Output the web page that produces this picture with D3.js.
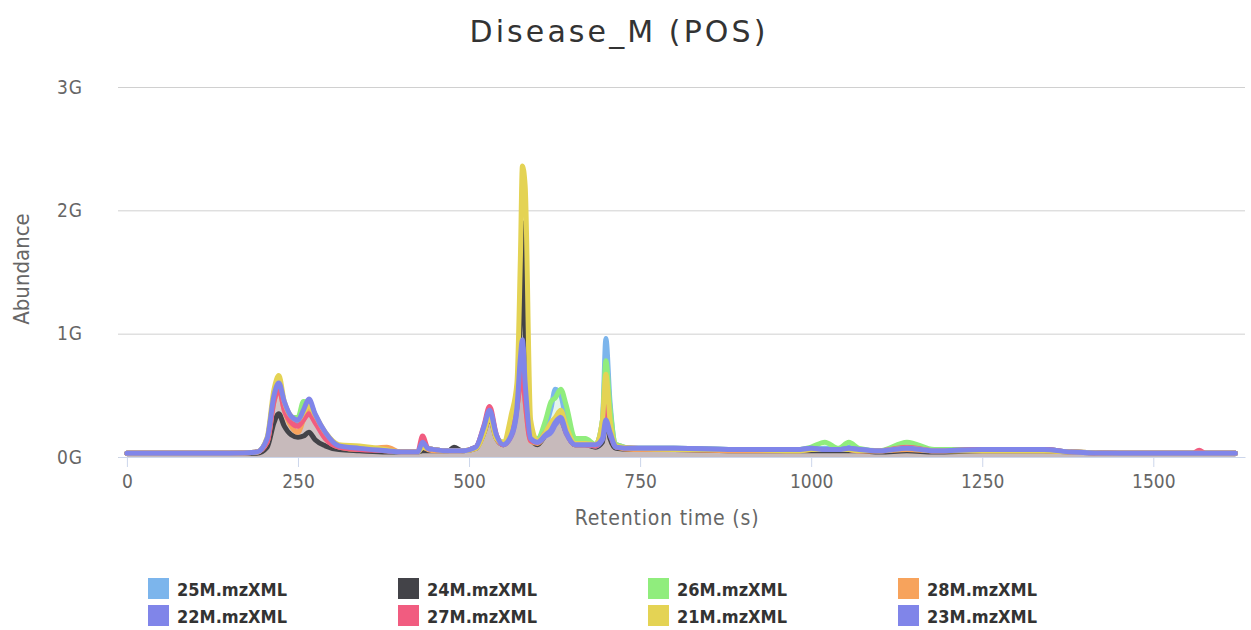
<!DOCTYPE html>
<html>
<head>
<meta charset="utf-8">
<script src="https://cdn.jsdelivr.net/npm/d3@7"></script>
<style>
  body { margin: 0; background: #fff; }
  #chart { width: 1251px; height: 630px; }
  .tick-label { font-family: "DejaVu Sans Condensed", "Liberation Sans Narrow", sans-serif; font-stretch: condensed; fill: #666; }
</style>
</head>
<body>
<div id="chart"></div>
<script>
// Retention times (s) shared by every run
const times = [0, 50, 100, 150, 190, 205, 215, 222, 230, 240,
  250, 258, 266, 275, 290, 310, 340, 380, 400, 425,
  432, 440, 450, 470, 478, 490, 510, 522, 530, 540,
  550, 562, 570, 575, 578, 582, 590, 600, 612, 620,
  626, 634, 642, 655, 670, 685, 695, 700, 706, 715,
  740, 800, 900, 980, 1000, 1020, 1040, 1055, 1070, 1100,
  1140, 1180, 1250, 1310, 1340, 1380, 1450, 1558, 1567, 1576, 1620];

// Abundance values in G, one array per run
const s25M = [0.03, 0.03, 0.03, 0.03, 0.04, 0.14, 0.48, 0.58, 0.42, 0.3,
  0.28, 0.35, 0.42, 0.32, 0.18, 0.09, 0.07, 0.05, 0.04, 0.04,
  0.08, 0.07, 0.06, 0.05, 0.05, 0.05, 0.08, 0.22, 0.35, 0.16,
  0.1, 0.2, 0.45, 0.75, 0.85, 0.55, 0.15, 0.13, 0.25, 0.4,
  0.55, 0.5, 0.3, 0.12, 0.12, 0.1, 0.3, 0.96, 0.45, 0.1,
  0.07, 0.07, 0.06, 0.06, 0.06, 0.07, 0.06, 0.08, 0.06, 0.05,
  0.08, 0.05, 0.06, 0.06, 0.06, 0.04, 0.03, 0.03, 0.03, 0.03, 0.03];
const s24M = [0.03, 0.03, 0.03, 0.03, 0.03, 0.08, 0.28, 0.35, 0.25, 0.18,
  0.16, 0.17, 0.2, 0.14, 0.09, 0.06, 0.05, 0.04, 0.04, 0.04,
  0.05, 0.05, 0.05, 0.05, 0.08, 0.05, 0.07, 0.2, 0.32, 0.15,
  0.1, 0.25, 0.45, 1.2, 1.9, 1.0, 0.15, 0.1, 0.18, 0.22,
  0.3, 0.3, 0.2, 0.1, 0.1, 0.08, 0.12, 0.35, 0.15, 0.07,
  0.06, 0.06, 0.05, 0.05, 0.05, 0.05, 0.05, 0.05, 0.05, 0.04,
  0.05, 0.04, 0.05, 0.05, 0.05, 0.04, 0.03, 0.03, 0.03, 0.03, 0.03];
const s26M = [0.03, 0.03, 0.03, 0.03, 0.04, 0.14, 0.5, 0.6, 0.42, 0.32,
  0.32, 0.45, 0.44, 0.33, 0.18, 0.09, 0.07, 0.05, 0.04, 0.04,
  0.08, 0.07, 0.06, 0.05, 0.05, 0.05, 0.08, 0.22, 0.36, 0.16,
  0.12, 0.22, 0.45, 0.75, 0.9, 0.55, 0.16, 0.15, 0.3, 0.45,
  0.48, 0.55, 0.42, 0.15, 0.15, 0.1, 0.3, 0.78, 0.4, 0.1,
  0.07, 0.07, 0.06, 0.06, 0.08, 0.12, 0.07, 0.12, 0.07, 0.05,
  0.12, 0.06, 0.06, 0.06, 0.06, 0.04, 0.03, 0.03, 0.03, 0.03, 0.03];
const s28M = [0.03, 0.03, 0.03, 0.03, 0.04, 0.12, 0.45, 0.55, 0.38, 0.25,
  0.2, 0.3, 0.4, 0.3, 0.15, 0.08, 0.06, 0.08, 0.04, 0.04,
  0.08, 0.06, 0.05, 0.05, 0.05, 0.05, 0.07, 0.2, 0.33, 0.15,
  0.1, 0.2, 0.4, 0.6, 0.7, 0.45, 0.13, 0.11, 0.18, 0.22,
  0.28, 0.3, 0.2, 0.1, 0.1, 0.09, 0.2, 0.5, 0.25, 0.08,
  0.06, 0.06, 0.05, 0.05, 0.06, 0.06, 0.06, 0.06, 0.05, 0.05,
  0.06, 0.05, 0.05, 0.05, 0.05, 0.04, 0.03, 0.03, 0.03, 0.03, 0.03];
const s22M = [0.03, 0.03, 0.03, 0.03, 0.04, 0.14, 0.48, 0.58, 0.43, 0.32,
  0.28, 0.36, 0.45, 0.34, 0.19, 0.09, 0.07, 0.05, 0.04, 0.04,
  0.1, 0.07, 0.06, 0.05, 0.05, 0.05, 0.08, 0.24, 0.36, 0.17,
  0.1, 0.17, 0.38, 0.75, 0.88, 0.55, 0.14, 0.12, 0.17, 0.2,
  0.26, 0.3, 0.19, 0.1, 0.1, 0.09, 0.14, 0.28, 0.18, 0.08,
  0.07, 0.07, 0.06, 0.06, 0.07, 0.06, 0.06, 0.07, 0.06, 0.05,
  0.07, 0.05, 0.06, 0.06, 0.06, 0.04, 0.03, 0.03, 0.03, 0.03, 0.03];
const s27M = [0.03, 0.03, 0.03, 0.03, 0.04, 0.12, 0.45, 0.55, 0.38, 0.28,
  0.25, 0.3, 0.35, 0.28, 0.15, 0.08, 0.06, 0.05, 0.04, 0.04,
  0.17, 0.07, 0.06, 0.05, 0.05, 0.05, 0.08, 0.26, 0.41, 0.18,
  0.1, 0.18, 0.4, 0.6, 0.68, 0.45, 0.13, 0.12, 0.2, 0.25,
  0.3, 0.33, 0.2, 0.1, 0.1, 0.09, 0.2, 0.45, 0.22, 0.08,
  0.07, 0.06, 0.06, 0.06, 0.06, 0.06, 0.06, 0.06, 0.05, 0.05,
  0.08, 0.05, 0.06, 0.06, 0.06, 0.04, 0.03, 0.03, 0.055, 0.03, 0.03];
const s21M = [0.03, 0.03, 0.03, 0.03, 0.04, 0.16, 0.55, 0.66, 0.45, 0.33,
  0.3, 0.36, 0.42, 0.34, 0.2, 0.1, 0.09, 0.06, 0.04, 0.04,
  0.08, 0.07, 0.06, 0.05, 0.05, 0.05, 0.07, 0.2, 0.34, 0.15,
  0.12, 0.35, 0.6, 1.6, 2.36, 2.2, 0.3, 0.13, 0.2, 0.28,
  0.32, 0.38, 0.25, 0.11, 0.11, 0.1, 0.3, 0.67, 0.3, 0.09,
  0.07, 0.06, 0.06, 0.05, 0.06, 0.06, 0.06, 0.06, 0.05, 0.05,
  0.07, 0.05, 0.05, 0.05, 0.05, 0.04, 0.03, 0.03, 0.03, 0.03, 0.03];
const s23M = [0.03, 0.03, 0.03, 0.03, 0.04, 0.15, 0.5, 0.6, 0.45, 0.33,
  0.3, 0.38, 0.47, 0.35, 0.2, 0.09, 0.07, 0.05, 0.04, 0.04,
  0.12, 0.07, 0.06, 0.05, 0.05, 0.05, 0.08, 0.25, 0.38, 0.18,
  0.1, 0.18, 0.4, 0.8, 0.95, 0.6, 0.15, 0.12, 0.18, 0.22,
  0.28, 0.32, 0.2, 0.1, 0.1, 0.1, 0.15, 0.3, 0.2, 0.08,
  0.07, 0.07, 0.06, 0.06, 0.07, 0.06, 0.06, 0.07, 0.06, 0.05,
  0.07, 0.05, 0.06, 0.06, 0.06, 0.04, 0.03, 0.03, 0.03, 0.03, 0.03];

const seriesNames = ["25M.mzXML", "24M.mzXML", "26M.mzXML", "28M.mzXML",
  "22M.mzXML", "27M.mzXML", "21M.mzXML", "23M.mzXML"];
const seriesValues = [s25M, s24M, s26M, s28M, s22M, s27M, s21M, s23M];
const seriesColors = ["#7cb5ec", "#434348", "#90ed7d", "#f7a35c",
  "#8085e9", "#f15c80", "#e4d354", "#8085e9"];

const xTicks = [0, 250, 500, 750, 1000, 1250, 1500];
const yTicks = [0, 1, 2, 3];

/**
 * Draw the whole chart into the container
 */
function renderChart(container) {
  const width = 1251;
  const height = 630;
  const plot = { left: 118, right: 1245, top: 87, bottom: 457 };

  const svg = d3.select(container).append("svg")
    .attr("width", width)
    .attr("height", height);

  // Scales: x domain padded slightly so 0 sits just inside the plot
  const x = d3.scaleLinear().domain([-13, 1634]).range([plot.left, plot.right]);
  const y = d3.scaleLinear().domain([0, 3]).range([plot.bottom, plot.top]);

  // Title
  svg.append("text")
    .attr("x", 619)
    .attr("y", 42)
    .attr("text-anchor", "middle")
    .style("font-family", "'DejaVu Sans', sans-serif")
    .style("font-size", "30px")
    .style("letter-spacing", "3.1px")
    .style("fill", "#333")
    .text("Disease_M (POS)");

  drawGrid(svg, x, y, plot);
  drawSeries(svg, x, y);
  drawAxes(svg, x, y, plot);
  drawLegend(svg);
}

/**
 * Horizontal grid lines and y labels
 */
function drawGrid(svg, x, y, plot) {
  const yAxis = d3.axisLeft(y)
    .tickValues(yTicks)
    .tickSize(-(plot.right - plot.left))
    .tickPadding(35)
    .tickFormat((d) => `${d}G`);

  const g = svg.append("g")
    .attr("transform", `translate(${plot.left},0)`)
    .call(yAxis);
  g.select(".domain").remove();
  g.selectAll(".tick line").attr("stroke", "#d0d0d0");
  g.selectAll(".tick text")
    .attr("class", "tick-label")
    .style("font-size", "19px")
    .style("letter-spacing", "1px");

  // Y title
  svg.append("text")
    .attr("transform", `translate(29,${(plot.top + plot.bottom) / 2 - 3}) rotate(-90)`)
    .attr("text-anchor", "middle")
    .attr("class", "tick-label")
    .style("font-size", "22px")
    .text("Abundance");
}

/**
 * Filled areas plus thick lines for every run
 */
function drawSeries(svg, x, y) {
  const area = d3.area()
    .x((d) => x(d[0]))
    .y0(y(0))
    .y1((d) => y(d[1]))
    .curve(d3.curveMonotoneX);

  const line = d3.line()
    .x((d) => x(d[0]))
    .y((d) => y(d[1]))
    .curve(d3.curveMonotoneX);

  const data = seriesValues.map((vals) => times.map((t, i) => [t, vals[i]]));

  // Areas first so all lines sit above the fill
  svg.append("g").selectAll("path")
    .data(data)
    .join("path")
    .attr("d", area)
    .attr("fill", (d, i) => seriesColors[i])
    .attr("fill-opacity", 0.12);

  svg.append("g").selectAll("path")
    .data(data)
    .join("path")
    .attr("d", line)
    .attr("fill", "none")
    .attr("stroke", (d, i) => seriesColors[i])
    .attr("stroke-width", 5)
    .attr("stroke-linejoin", "round")
    .attr("stroke-linecap", "round");
}

/**
 * Bottom axis with ticks and title
 */
function drawAxes(svg, x, y, plot) {
  const xAxis = d3.axisBottom(x)
    .tickValues(xTicks)
    .tickFormat(d3.format("d"))
    .tickSize(10)
    .tickSizeOuter(0)
    .tickPadding(8);

  const g = svg.append("g")
    .attr("transform", `translate(0,${plot.bottom})`)
    .call(xAxis);
  g.select(".domain").attr("stroke", "#ccd6eb");
  g.selectAll(".tick line").attr("stroke", "#ccd6eb");
  g.selectAll(".tick text")
    .attr("class", "tick-label")
    .style("font-size", "19px");

  svg.append("text")
    .attr("x", 667)
    .attr("y", 525)
    .attr("text-anchor", "middle")
    .attr("class", "tick-label")
    .style("font-size", "21px")
    .style("letter-spacing", "0.8px")
    .text("Retention time (s)");
}

/**
 * Legend: four columns, two rows
 */
function drawLegend(svg) {
  const colX = d3.scaleBand().domain([0, 1, 2, 3]).range([148, 1148]);
  const rowY = d3.scaleBand().domain([0, 1]).range([578, 632]);

  const items = svg.append("g").selectAll("g")
    .data(seriesNames)
    .join("g")
    .attr("transform", (d, i) => `translate(${colX(i % 4)},${rowY(Math.floor(i / 4))})`);

  items.append("rect")
    .attr("width", 21)
    .attr("height", 21)
    .attr("fill", (d, i) => seriesColors[i]);

  items.append("text")
    .attr("x", 29)
    .attr("y", 18)
    .style("font-family", "'DejaVu Sans Condensed', 'DejaVu Sans', sans-serif")
    .style("font-stretch", "condensed")
    .style("font-weight", "bold")
    .style("font-size", "18px")
    .style("fill", "#333")
    .text((d) => d);
}

renderChart(document.getElementById("chart"));
</script>
</body>
</html>
